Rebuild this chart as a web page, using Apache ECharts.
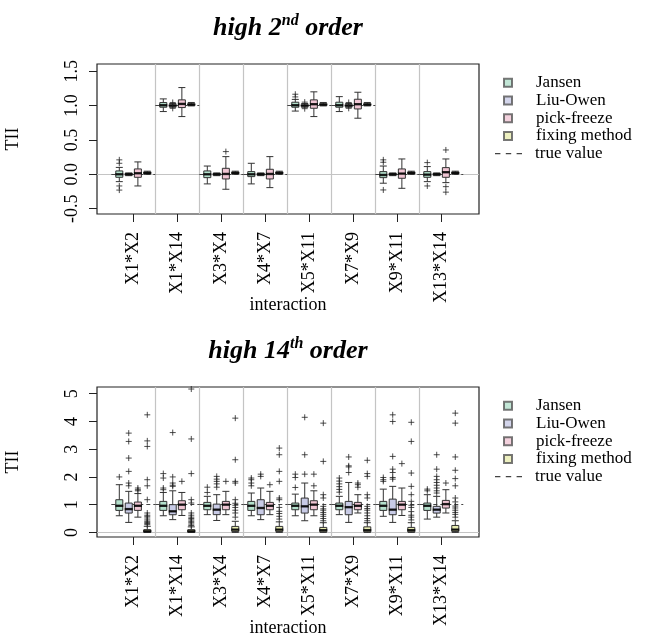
<!DOCTYPE html>
<html>
<head>
<meta charset="utf-8">
<script src="https://cdn.jsdelivr.net/npm/echarts@6/dist/echarts.min.js"></script>
<style>
  html, body { margin: 0; padding: 0; background: #fff; }
  #chart { width: 646px; height: 635px; }
</style>
</head>
<body>
<div id="chart"></div>
<script>
// Data
const interactions = ["X1*X2", "X1*X14", "X3*X4", "X4*X7", "X5*X11", "X7*X9", "X9*X11", "X13*X14"];
const methods = ["Jansen", "Liu-Owen", "pick-freeze", "fixing method"];
const secondTicks = [-0.5, 0, 0.5, 1, 1.5];
const fourteenthTicks = [0, 1, 2, 3, 4, 5];

// true interaction values
const secondTruth = [0, 1, 0, 0, 1, 1, 0, 0];
const fourteenthTruth = [1, 1, 1, 1, 1, 1, 1, 1];

// boxes: [min, Q1, median, Q3, max] per interaction
const secondJansen = [
  [-0.107, -0.044, 0.0, 0.049, 0.10], [0.913, 0.976, 1.005, 1.044, 1.097],
  [-0.14, -0.049, 0.0, 0.049, 0.12], [-0.14, -0.034, 0.0, 0.039, 0.16],
  [0.92, 0.976, 1.005, 1.049, 1.09], [0.913, 0.976, 1.005, 1.049, 1.13],
  [-0.13, -0.049, -0.01, 0.039, 0.12], [-0.107, -0.044, -0.005, 0.039, 0.112]
];
const secondLiuOwen = [
  [-0.02, -0.008, 0, 0.008, 0.02], [0.975, 0.993, 1.0, 1.01, 1.03],
  [-0.02, -0.008, 0, 0.008, 0.02], [-0.02, -0.008, 0, 0.008, 0.02],
  [0.975, 0.993, 1.0, 1.01, 1.03], [0.975, 0.993, 1.0, 1.01, 1.03],
  [-0.02, -0.008, 0, 0.008, 0.02], [-0.02, -0.008, 0, 0.008, 0.02]
];
const secondPickFreeze = [
  [-0.17, -0.044, 0.015, 0.078, 0.18], [0.84, 0.971, 1.024, 1.083, 1.262],
  [-0.218, -0.068, 0.005, 0.087, 0.257], [-0.194, -0.068, 0.005, 0.073, 0.257],
  [0.84, 0.961, 1.02, 1.083, 1.2], [0.816, 0.951, 1.02, 1.092, 1.194],
  [-0.204, -0.058, 0.01, 0.078, 0.223], [-0.121, -0.044, 0.03, 0.097, 0.223]
];
const secondFixing = [
  [0.0, 0.012, 0.02, 0.03, 0.045], [0.995, 1.005, 1.015, 1.025, 1.045],
  [0.0, 0.012, 0.02, 0.03, 0.045], [0.0, 0.012, 0.02, 0.03, 0.045],
  [0.995, 1.005, 1.015, 1.025, 1.045], [0.995, 1.005, 1.015, 1.025, 1.045],
  [0.0, 0.012, 0.02, 0.03, 0.045], [0.0, 0.012, 0.02, 0.03, 0.045]
];
const secondJansenOut = [[0.21, 0.16, -0.17, -0.23], [], [], [], [1.165, 1.126], [], [0.21, 0.175, -0.228], [0.17, -0.17]];
const secondLiuOwenOut = [[], [1.045, 0.96], [], [], [1.05, 0.955], [1.045, 0.96], [], []];
const secondPickFreezeOut = [[], [], [0.33], [], [], [], [], [0.354, -0.18, -0.26]];
const secondFixingOut = [[], [], [], [], [], [], [], []];

const fourteenthJansen = [
  [0.6, 0.793, 0.96, 1.178, 1.72], [0.6, 0.793, 0.96, 1.118, 1.44],
  [0.64, 0.817, 0.96, 1.082, 1.3], [0.6, 0.793, 0.96, 1.118, 1.42],
  [0.6, 0.817, 0.96, 1.058, 1.38], [0.64, 0.817, 0.96, 1.058, 1.3],
  [0.58, 0.793, 0.96, 1.118, 1.56], [0.48, 0.793, 0.96, 1.058, 1.36]
];
const fourteenthLiuOwen = [
  [0.36, 0.697, 0.84, 1.058, 1.48], [0.46, 0.637, 0.76, 1.0, 1.5],
  [0.43, 0.64, 0.82, 1.02, 1.36], [0.46, 0.637, 0.88, 1.178, 1.6],
  [0.42, 0.697, 0.94, 1.238, 1.78], [0.36, 0.637, 0.91, 1.118, 1.8],
  [0.36, 0.637, 0.82, 1.2, 1.66], [0.55, 0.697, 0.82, 0.94, 1.3]
];
const fourteenthPickFreeze = [
  [0.55, 0.793, 0.96, 1.094, 1.4], [0.61, 0.817, 1.0, 1.142, 1.44],
  [0.64, 0.817, 1.0, 1.118, 1.48], [0.64, 0.817, 0.96, 1.082, 1.48],
  [0.6, 0.817, 1.0, 1.142, 1.5], [0.7, 0.817, 0.96, 1.082, 1.36],
  [0.61, 0.817, 1.0, 1.118, 1.6], [0.7, 0.877, 1.02, 1.154, 1.54]
];
const fourteenthFixing = [
  [0.0, 0.01, 0.04, 0.1, 0.22], [0.0, 0.01, 0.04, 0.1, 0.2],
  [0.0, 0.03, 0.1, 0.216, 0.4], [0.0, 0.03, 0.1, 0.216, 0.38],
  [0.0, 0.02, 0.08, 0.18, 0.35], [0.0, 0.02, 0.08, 0.2, 0.35],
  [0.0, 0.02, 0.08, 0.18, 0.35], [0.0, 0.03, 0.1, 0.25, 0.42]
];
const fourteenthJansenOut = [
  [2.0], [2.12, 1.96, 1.6, 1.54], [1.63, 1.44], [1.96, 1.9, 1.78, 1.68],
  [2.1, 1.98, 1.62], [1.96, 1.85, 1.75, 1.65, 1.55, 1.45], [1.98, 1.9, 1.84], [1.56, 1.5]
];
const fourteenthLiuOwenOut = [
  [3.58, 3.28, 2.68, 2.2, 1.78, 1.68], [3.6, 2.0, 1.78, 1.7, 1.66], [2.02, 1.92, 1.84, 1.75, 1.63], [2.1, 2.02],
  [4.15, 2.8, 2.1], [2.72, 2.4, 2.36, 2.16], [4.24, 4.0, 2.74, 2.28, 2.16, 1.98, 1.92],
  [2.8, 2.28, 2.02, 1.9, 1.8, 1.7, 1.6, 1.5, 1.42]
];
const fourteenthPickFreezeOut = [[1.6, 1.54, 1.5], [1.84], [1.84], [1.72], [2.1, 1.68], [1.78, 1.72, 1.63], [2.48], [1.78]];
const fourteenthFixingOut = [
  [4.24, 3.3, 3.1, 1.9, 1.68, 1.18, 0.7, 0.62, 0.58, 0.52, 0.45, 0.4, 0.36, 0.32, 0.28],
  [5.17, 3.37, 2.12, 1.18, 1.06, 0.7, 0.62, 0.55, 0.5, 0.45, 0.4, 0.35, 0.3, 0.25],
  [4.12, 2.62, 1.84, 1.78, 1.18, 1.05, 0.98, 0.9, 0.8, 0.7, 0.55],
  [3.04, 2.8, 2.2, 1.84, 1.24, 1.18, 0.9, 0.76, 0.68, 0.58, 0.48],
  [3.94, 2.56, 1.36, 1.24, 0.94, 0.85, 0.8, 0.72, 0.65, 0.58, 0.5, 0.42],
  [2.6, 2.12, 2.02, 1.36, 1.24, 0.94, 0.86, 0.8, 0.7, 0.6, 0.5, 0.42],
  [3.97, 3.28, 2.14, 1.66, 1.36, 1.12, 0.98, 0.9, 0.75, 0.62, 0.55, 0.45],
  [4.3, 3.94, 2.72, 2.24, 1.94, 1.68, 1.24, 1.1, 0.95, 0.88, 0.8, 0.72, 0.65, 0.55]
];

// Styling
const FONT = '"Liberation Serif", "DejaVu Serif", serif';
const methodColors = ["#b3e0cc", "#c8cbe6", "#f0c6d4", "#e8ecb0"];
const boxOffsets = [-0.318, -0.104, 0.104, 0.318]; // position inside each group
const plusSymbol = "path://M0,4H8M4,0V8";
const dashIcon = "path://M0,0H5V1.2H0Z M10,0H15V1.2H10Z M20,0H25V1.2H20Z";

const panels = [
  {
    title: "{t|high 2}{s|nd}{t| order}",
    top: 64, min: -0.578, max: 1.605, ticks: secondTicks, fmt: (v) => v.toFixed(1),
    boxes: [secondJansen, secondLiuOwen, secondPickFreeze, secondFixing],
    outliers: [secondJansenOut, secondLiuOwenOut, secondPickFreezeOut, secondFixingOut],
    truth: secondTruth,
  },
  {
    title: "{t|high 14}{s|th}{t| order}",
    top: 387, min: -0.166, max: 5.243, ticks: fourteenthTicks, fmt: (v) => String(v),
    boxes: [fourteenthJansen, fourteenthLiuOwen, fourteenthPickFreeze, fourteenthFixing],
    outliers: [fourteenthJansenOut, fourteenthLiuOwenOut, fourteenthPickFreezeOut, fourteenthFixingOut],
    truth: fourteenthTruth,
  },
];

const groupTicks = interactions.map((_, i) => i);
const separators = interactions.slice(1).map((_, i) => i + 0.5);
const textBase = { fontFamily: FONT, fontSize: 18, color: "#000" };

const option = { animation: false, title: [], grid: [], xAxis: [], yAxis: [], legend: [], series: [] };

panels.forEach((p, g) => {
  option.title.push({
    text: p.title, left: 288, top: p.top - 51, textAlign: "center", padding: 0,
    textStyle: {
      rich: {
        t: { fontFamily: FONT, fontSize: 26, fontStyle: "italic", fontWeight: "bold", color: "#000", lineHeight: 30 },
        s: { fontFamily: FONT, fontSize: 16, fontStyle: "italic", fontWeight: "bold", color: "#000", lineHeight: 18, verticalAlign: "top" },
      },
    },
  });

  option.grid.push({
    left: 97, right: 167, top: p.top, height: 150, outerBoundsMode: "none",
    show: true, borderColor: "#222", borderWidth: 1.2,
  });

  option.xAxis.push({
    gridIndex: g, type: "value", min: -0.825, max: 7.857,
    axisLine: { show: false, onZero: false }, splitLine: { show: false },
    axisTick: { show: true, length: 8, lineStyle: { color: "#222" }, customValues: groupTicks },
    axisLabel: { ...textBase, customValues: groupTicks, rotate: 90, margin: 18, formatter: (v) => interactions[Math.round(v)] },
    name: "interaction", nameLocation: "middle", nameGap: 82, nameMoveOverlap: false, nameTextStyle: textBase,
  });

  option.yAxis.push({
    gridIndex: g, type: "value", min: p.min, max: p.max,
    axisLine: { show: false, onZero: false }, splitLine: { show: false },
    axisTick: { show: true, length: 8, lineStyle: { color: "#222" }, customValues: p.ticks },
    axisLabel: { ...textBase, customValues: p.ticks, rotate: 90, margin: 16, formatter: p.fmt },
    name: "TII", nameLocation: "middle", nameGap: 75, nameMoveOverlap: false, nameTextStyle: textBase,
  });

  // legends: the four boxes, then the dashed line
  option.legend.push({
    orient: "vertical", left: 503, top: 74 + g * 323, padding: 0, itemGap: 0,
    itemWidth: 8, itemHeight: 8, icon: "rect", data: methods,
    textStyle: { ...textBase, fontSize: 17, lineHeight: 17.7, padding: [0, 0, 0, 19] },
  });
  option.legend.push({
    orient: "vertical", left: 495, top: 74 + 4 * 17.7 + g * 323, padding: 0, itemGap: 0,
    itemWidth: 27, itemHeight: 8, data: [{ name: "true value", icon: dashIcon }],
    textStyle: { ...textBase, fontSize: 17, lineHeight: 17.7, padding: [0, 0, 0, 8] },
  });

  const boxData = [];
  const medians = [];
  const outs = [];
  p.boxes.forEach((method, m) => {
    method.forEach((b, i) => {
      const x = i + boxOffsets[m];
      boxData.push({ value: [x, ...b], itemStyle: { color: methodColors[m] } });
      medians.push([x, b[2]]);
      p.outliers[m][i].forEach((v) => outs.push([x, v]));
    });
  });

  // light grey guide lines
  option.series.push({
    type: "line", xAxisIndex: g, yAxisIndex: g, data: [], z: 1, silent: true,
    markLine: {
      silent: true, symbol: "none", z: 1, label: { show: false },
      lineStyle: { color: "#c4c4c4", type: "solid", width: 1.2 },
      data: [...separators.map((v) => ({ xAxis: v })), { yAxis: 0 }],
    },
  });

  option.series.push({
    name: "true value", type: "line", xAxisIndex: g, yAxisIndex: g, data: [], z: 2, symbol: "none",
    itemStyle: { color: "#444" }, lineStyle: { color: "#444", type: [5, 5], width: 1 },
    markLine: {
      silent: true, symbol: "none", z: 2, label: { show: false },
      lineStyle: { color: "#444", type: [4, 3], width: 1 },
      data: p.truth.map((v, i) => [{ coord: [i - 0.5, v] }, { coord: [i + 0.5, v] }]),
    },
  });

  option.series.push({
    type: "boxplot", xAxisIndex: g, yAxisIndex: g, z: 3, boxWidth: [7, 7],
    itemStyle: { borderColor: "#333", borderWidth: 1 },
    data: boxData,
  });

  option.series.push({
    type: "scatter", xAxisIndex: g, yAxisIndex: g, z: 4, silent: true,
    symbol: "rect", symbolSize: [8, 2.4], itemStyle: { color: "#000" }, data: medians,
  });

  option.series.push({
    type: "scatter", xAxisIndex: g, yAxisIndex: g, z: 4, silent: true,
    symbol: plusSymbol, symbolSize: 6,
    itemStyle: { color: "rgba(0,0,0,0)", borderColor: "#222", borderWidth: 1 },
    data: outs,
  });
});

// empty series only feeding the legend
methods.forEach((name, m) => {
  option.series.push({
    name, type: "scatter", xAxisIndex: 0, yAxisIndex: 0, data: [],
    itemStyle: { color: methodColors[m], borderColor: "#555", borderWidth: 1 },
  });
});

const chart = echarts.init(document.getElementById("chart"), null, { renderer: "canvas" });
chart.setOption(option);
</script>
</body>
</html>
